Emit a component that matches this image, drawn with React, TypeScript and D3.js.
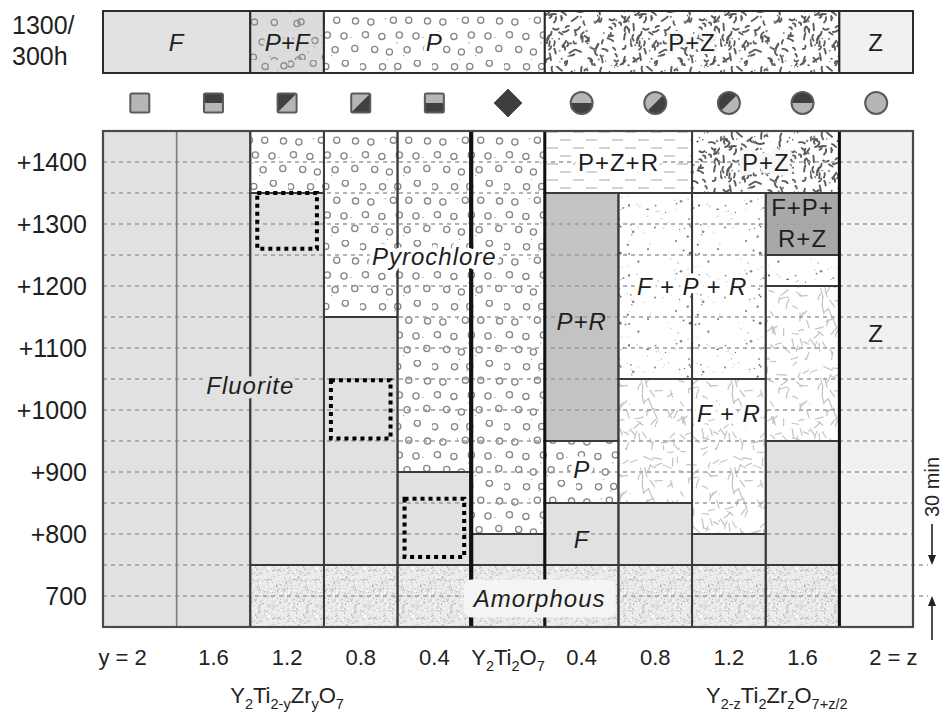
import React, { useMemo } from "react";
import * as d3 from "d3";

const W = 947;
const H = 719;

// Composition axis: y for Y2Ti(2-y)Zr(y)O7 on the left, z for Y(2-z)Ti2Zr(z)O(7+z/2) on the right
const compositions = ["y = 2", "1.6", "1.2", "0.8", "0.4", "Y{2}Ti{2}O{7}", "0.4", "0.8", "1.2", "1.6", "2 = z"];

// Temperature axis (°C)
const tempTicks = [700, 800, 900, 1000, 1100, 1200, 1300, 1400];
const tempTickLabels = ["700", "+800", "+900", "+1000", "+1100", "+1200", "+1300", "+1400"];
const gridTemps = [700, 750, 800, 850, 900, 950, 1000, 1050, 1100, 1150, 1200, 1250, 1300, 1350, 1400];

// Phase fields after 30 min anneals: [fromColumn, toColumn, T low, T high, phase]
const phaseRegions: [number, number, number, number, string][] = [
  [0, 2, 650, 1450, "F"],
  [2, 3, 650, 750, "A"], [2, 3, 750, 1350, "F"], [2, 3, 1350, 1450, "P"],
  [3, 4, 650, 750, "A"], [3, 4, 750, 1150, "F"], [3, 4, 1150, 1450, "P"],
  [4, 5, 650, 750, "A"], [4, 5, 750, 900, "F"], [4, 5, 900, 1450, "P"],
  [5, 6, 650, 750, "A"], [5, 6, 750, 800, "F"], [5, 6, 800, 1450, "P"],
  [6, 7, 650, 750, "A"], [6, 7, 750, 850, "F"], [6, 7, 850, 950, "P"], [6, 7, 950, 1350, "PR"],
  [6, 8, 1350, 1450, "PZR"],
  [7, 8, 650, 750, "A"], [7, 8, 750, 850, "F"], [7, 8, 850, 1050, "FR"], [7, 8, 1050, 1350, "FPR"],
  [8, 9, 650, 750, "A"], [8, 9, 750, 800, "F"], [8, 9, 800, 1050, "FR"], [8, 9, 1050, 1350, "FPR"],
  [8, 10, 1350, 1450, "PZ"],
  [9, 10, 650, 750, "A"], [9, 10, 750, 950, "F"], [9, 10, 950, 1200, "FR"], [9, 10, 1200, 1250, "FPR"], [9, 10, 1250, 1350, "FPRZ"],
  [10, 11, 650, 1450, "Z"],
];

// Long anneal at 1300 °C / 300 h: column spans and phase
const stripFrom = [0, 2, 3, 6, 10];
const stripTo = [2, 3, 6, 10, 11];
const stripPhase = ["F", "PF", "P", "PZ", "Z"];
const stripLabels = ["F", "P+F", "P", "P+Z", "Z"];

// Composition markers, one per column
const markerKinds = [
  "sq-light", "sq-top", "sq-ul", "sq-lr", "sq-bottom",
  "diamond",
  "ci-bottom", "ci-lr", "ci-ul", "ci-top", "ci-light",
];

// Metastable fluorite windows: [column, T low, T high]
const metastableBoxes: [number, number, number][] = [
  [2, 1260, 1350],
  [3, 954, 1048],
  [4, 763, 857],
];

// Field names: column position (centre), temperature, italic, knock out lines behind
const phaseLabels = [
  { text: "Fluorite", c: 2.0, t: 1040, italic: true, knock: true },
  { text: "Pyrochlore", c: 4.5, t: 1248, italic: true, knock: true },
  { text: "P+Z+R", c: 7.0, t: 1400, italic: false, knock: true },
  { text: "P+Z", c: 9.0, t: 1400, italic: false, knock: true },
  { text: "F+P+", c: 9.5, t: 1326, italic: false, knock: false },
  { text: "R+Z", c: 9.5, t: 1277, italic: false, knock: false },
  { text: "F + P + R", c: 8.0, t: 1200, italic: true, knock: true },
  { text: "P+R", c: 6.5, t: 1142, italic: true, knock: false },
  { text: "F + R", c: 8.5, t: 994, italic: true, knock: true },
  { text: "P", c: 6.5, t: 904, italic: true, knock: true },
  { text: "F", c: 6.5, t: 791, italic: true, knock: false },
  { text: "Z", c: 10.5, t: 1124, italic: false, knock: false },
];
const amorphousLabel = { text: "Amorphous", c: 5.93, t: 696 };

const seriesNames = [
  { text: "Y{2}Ti{2-y}Zr{y}O{7}", c: 2.5 },
  { text: "Y{2-z}Ti{2}Zr{z}O{7+z/2}", c: 9.15 },
];

const phaseFill: Record<string, string> = {
  F: "#e1e1e1",
  P: "url(#pat-pyro)",
  A: "url(#pat-amor)",
  PR: "#c3c3c3",
  FPRZ: "#a8a8a8",
  Z: "#f1f1f1",
  PZR: "url(#pat-pzr)",
  PZ: "url(#pat-pz)",
  FPR: "url(#pat-fpr)",
  FR: "url(#pat-fr)",
  PF: "url(#pat-pf)",
};
const phaseBase: Record<string, string> = {
  F: "#e1e1e1", P: "#ffffff", A: "#ececec", PR: "#c3c3c3", FPRZ: "#a8a8a8",
  Z: "#f1f1f1", PZR: "#ffffff", PZ: "#f7f7f7", FPR: "#ffffff", FR: "#ffffff", PF: "#dcdcdc",
};

const FONT = "'Liberation Sans', Arial, Helvetica, sans-serif";

function lcg(seed: number) {
  let s = seed >>> 0;
  return () => {
    s = (Math.imul(s, 1664525) + 1013904223) >>> 0;
    return s / 4294967296;
  };
}

function richSpans(s: string, size: number) {
  const parts = s.split(/(\{[^}]*\})/).filter((p) => p.length);
  let sub = false;
  return parts.map((p, i) => {
    const isSub = p.startsWith("{");
    const txt = isSub ? p.slice(1, -1) : p;
    let dy = 0;
    if (isSub && !sub) dy = size * 0.28;
    if (!isSub && sub) dy = -size * 0.28;
    sub = isSub;
    return (
      <tspan key={i} dy={dy || undefined} fontSize={isSub ? size * 0.66 : size}>
        {txt}
      </tspan>
    );
  });
}

function circlesTile(rnd: () => number, w: number, h: number, dx: number, dy: number, color: string) {
  const out: JSX.Element[] = [];
  let k = 0;
  for (let row = 0; row * dy < h; row++) {
    for (let col = 0; col * dx < w; col++) {
      const cx = col * dx + (row % 2 ? dx / 2 : 0) + (rnd() - 0.5) * 5 + 4;
      const cy = row * dy + (rnd() - 0.5) * 4 + 5;
      out.push(<circle key={k++} cx={cx % w} cy={cy} r={3.1} fill="none" stroke={color} strokeWidth={1.3} />);
    }
  }
  for (let i = 0; i < 10; i++) {
    out.push(<circle key={k++} cx={rnd() * w} cy={rnd() * h} r={0.7} fill="#9a9a9a" />);
  }
  return out;
}

function strokesTile(rnd: () => number, w: number, h: number, n: number, lmin: number, lmax: number, color: string, sw: number, curve: number) {
  const out: JSX.Element[] = [];
  for (let i = 0; i < n; i++) {
    const x0 = rnd() * w;
    const y0 = rnd() * h;
    const a = rnd() * Math.PI;
    const L = lmin + rnd() * (lmax - lmin);
    const x1 = x0 + Math.cos(a) * L;
    const y1 = y0 + Math.sin(a) * L;
    const bend = (rnd() - 0.5) * curve;
    const mx = (x0 + x1) / 2 - Math.sin(a) * bend;
    const my = (y0 + y1) / 2 + Math.cos(a) * bend;
    out.push(
      <path key={i} d={`M${x0.toFixed(1)},${y0.toFixed(1)}Q${mx.toFixed(1)},${my.toFixed(1)} ${x1.toFixed(1)},${y1.toFixed(1)}`}
        fill="none" stroke={color} strokeWidth={sw} strokeLinecap="round" />
    );
  }
  return out;
}

function dotsTile(rnd: () => number, w: number, h: number, n: number, rmin: number, rmax: number, shades: string[]) {
  const out: JSX.Element[] = [];
  for (let i = 0; i < n; i++) {
    out.push(
      <circle key={i} cx={rnd() * w} cy={rnd() * h} r={rmin + rnd() * (rmax - rmin)}
        fill={shades[Math.floor(rnd() * shades.length)]} />
    );
  }
  return out;
}

function Marker({ kind, cx, cy }: { kind: string; cx: number; cy: number }) {
  const light = "#b6b6b6";
  const dark = "#404040";
  const edge = "#5a5a5a";
  if (kind === "diamond") {
    const r = 14;
    return <path d={`M${cx},${cy - r}L${cx + r},${cy}L${cx},${cy + r}L${cx - r},${cy}Z`} fill="#3e3e3e" stroke="#555" strokeWidth={1} />;
  }
  const isSq = kind.startsWith("sq");
  const mode = kind.split("-")[1];
  const r = isSq ? 9.5 : 11;
  const x0 = cx - r, x1 = cx + r, y0 = cy - r, y1 = cy + r;
  let darkPath = "";
  if (mode === "top") darkPath = `M${x0},${y0}H${x1}V${cy}H${x0}Z`;
  if (mode === "bottom") darkPath = `M${x0},${cy}H${x1}V${y1}H${x0}Z`;
  if (mode === "ul") darkPath = `M${x0},${y0}H${x1}L${x0},${y1}Z`;
  if (mode === "lr") darkPath = `M${x1},${y0}V${y1}H${x0}Z`;
  const id = `clip-${kind}-${Math.round(cx)}`;
  return (
    <g>
      <defs>
        <clipPath id={id}>
          {isSq ? <rect x={x0} y={y0} width={2 * r} height={2 * r} /> : <circle cx={cx} cy={cy} r={r} />}
        </clipPath>
      </defs>
      {isSq ? <rect x={x0} y={y0} width={2 * r} height={2 * r} fill={light} /> : <circle cx={cx} cy={cy} r={r} fill={light} />}
      {darkPath && <path d={darkPath} fill={dark} clipPath={`url(#${id})`} />}
      {isSq ? (
        <rect x={x0} y={y0} width={2 * r} height={2 * r} fill="none" stroke={edge} strokeWidth={2} rx={1.5} />
      ) : (
        <circle cx={cx} cy={cy} r={r} fill="none" stroke={edge} strokeWidth={2} />
      )}
    </g>
  );
}

export default function App() {
  const x = d3.scaleLinear().domain([0, 11]).range([103, 913]);
  const t = d3.scaleLinear().domain([650, 1450]).range([627, 131]);
  const stripTop = 11;
  const stripBottom = 73;
  const markerY = 103;

  const patterns = useMemo(() => {
    const pyro = circlesTile(lcg(7), 72, 60, 18, 15, "#868686");
    const pf = circlesTile(lcg(11), 72, 60, 22, 18, "#8c8c8c");
    const pz = [
      ...strokesTile(lcg(21), 90, 66, 90, 3, 7.5, "#5a5a5a", 1.9, 5),
      ...dotsTile(lcg(22), 90, 66, 45, 0.7, 1.3, ["#5e5e5e", "#888"]),
    ];
    const fr = strokesTile(lcg(31), 90, 90, 85, 5, 10, "#c4c4c4", 1.2, 2);
    const fpr = [
      ...dotsTile(lcg(41), 70, 70, 26, 0.6, 1.5, ["#6e6e6e", "#8a8a8a"]),
      ...dotsTile(lcg(42), 70, 70, 30, 0.5, 0.9, ["#c2c2c2", "#d0d0d0"]),
    ];
    const amor = [
      ...dotsTile(lcg(51), 48, 48, 380, 0.45, 0.85, ["#a9a9a9", "#bcbcbc", "#cccccc", "#d8d8d8"]),
      ...dotsTile(lcg(52), 48, 48, 120, 0.5, 1.0, ["#ffffff", "#f6f6f6"]),
    ];
    return { pyro, pf, pz, fr, fpr, amor };
  }, []);

  const regionAt = (c: number, tv: number) =>
    phaseRegions.find((r) => c >= r[0] && c <= r[1] && tv >= r[2] && tv <= r[3]);

  const panelX0 = x(0), panelX1 = x(11), panelY0 = t(1450), panelY1 = t(650);

  return (
    <svg width={W} height={H} viewBox={`0 0 ${W} ${H}`}
      style={{ position: "absolute", left: 0, top: 0, background: "#fff" }}
      fontFamily={FONT}>
      <defs>
        <pattern id="pat-pyro" patternUnits="userSpaceOnUse" width={72} height={60}>
          <rect width={72} height={60} fill="#fff" />
          {patterns.pyro}
        </pattern>
        <pattern id="pat-pf" patternUnits="userSpaceOnUse" width={72} height={60}>
          <rect width={72} height={60} fill="#dcdcdc" />
          {patterns.pf}
        </pattern>
        <pattern id="pat-pz" patternUnits="userSpaceOnUse" width={90} height={66}>
          <rect width={90} height={66} fill="#fff" />
          {patterns.pz}
        </pattern>
        <pattern id="pat-fr" patternUnits="userSpaceOnUse" width={90} height={90}>
          <rect width={90} height={90} fill="#fff" />
          {patterns.fr}
        </pattern>
        <pattern id="pat-fpr" patternUnits="userSpaceOnUse" width={70} height={70}>
          <rect width={70} height={70} fill="#fff" />
          {patterns.fpr}
        </pattern>
        <pattern id="pat-amor" patternUnits="userSpaceOnUse" width={48} height={48}>
          <rect width={48} height={48} fill="#ebebeb" />
          {patterns.amor}
        </pattern>
        <pattern id="pat-pzr" patternUnits="userSpaceOnUse" width={26} height={16}>
          <rect width={26} height={16} fill="#fff" />
          <line x1={1} x2={12} y1={4} y2={4} stroke="#c8c8c8" strokeWidth={1.6} />
          <line x1={14} x2={25} y1={12} y2={12} stroke="#c8c8c8" strokeWidth={1.6} />
        </pattern>
      </defs>

      {/* 1300 °C / 300 h strip */}
      <text x={12} y={34} fontSize={25} fill="#1e1e1e">1300/</text>
      <text x={12} y={65} fontSize={25} fill="#1e1e1e">300h</text>
      {stripPhase.map((ph, i) => (
        <rect key={`s${i}`} x={x(stripFrom[i])} y={stripTop} width={x(stripTo[i]) - x(stripFrom[i])}
          height={stripBottom - stripTop} fill={phaseFill[ph]} stroke="#2a2a2a" strokeWidth={2} />
      ))}
      {stripLabels.map((lab, i) => (
        <text key={`sl${i}`} x={(x(stripFrom[i]) + x(stripTo[i])) / 2} y={(stripTop + stripBottom) / 2}
          textAnchor="middle" dominantBaseline="central" fontSize={24}
          fontStyle={stripPhase[i] === "PZ" || stripPhase[i] === "Z" ? "normal" : "italic"}
          fill="#1e1e1e" stroke={phaseBase[stripPhase[i]]} strokeWidth={6} strokeLinejoin="round"
          paintOrder="stroke" letterSpacing={stripPhase[i] === "PF" ? 0 : 1}>
          {lab}
        </text>
      ))}

      {/* composition markers */}
      {markerKinds.map((k, i) => (
        <Marker key={`m${i}`} kind={k} cx={x(i + 0.5)} cy={markerY} />
      ))}

      {/* phase field fills */}
      {phaseRegions.map((r, i) => (
        <rect key={`r${i}`} x={x(r[0])} y={t(r[3])} width={x(r[1]) - x(r[0])} height={t(r[2]) - t(r[3])}
          fill={phaseFill[r[4]]} />
      ))}

      {/* temperature grid */}
      {gridTemps.map((g) => (
        <line key={`g${g}`} x1={panelX0} x2={g <= 750 ? 928 : panelX1} y1={t(g)} y2={t(g)}
          stroke="#9c9c9c" strokeWidth={1.3} strokeDasharray="4 4" />
      ))}

      {/* field boundaries */}
      {phaseRegions.map((r, i) => (
        <rect key={`o${i}`} x={x(r[0])} y={t(r[3])} width={x(r[1]) - x(r[0])} height={t(r[2]) - t(r[3])}
          fill="none" stroke="#3a3a3a" strokeWidth={1.9} />
      ))}
      <line x1={x(1)} x2={x(1)} y1={panelY0} y2={panelY1} stroke="#7c7c7c" strokeWidth={1.6} />
      {[5, 6, 10].map((c) => (
        <line key={`h${c}`} x1={x(c)} x2={x(c)} y1={panelY0} y2={panelY1}
          stroke="#111" strokeWidth={c === 5 ? 4.2 : 3} />
      ))}
      <rect x={panelX0} y={panelY0} width={panelX1 - panelX0} height={panelY1 - panelY0}
        fill="none" stroke="#4a4a4a" strokeWidth={2.2} />

      {/* metastable windows */}
      {metastableBoxes.map((b, i) => (
        <rect key={`b${i}`} x={x(b[0]) + 7} y={t(b[2])} width={x(b[0] + 1) - x(b[0]) - 14}
          height={t(b[1]) - t(b[2])} fill="none" stroke="#000" strokeWidth={4}
          strokeDasharray="4 4" />
      ))}

      {/* field names */}
      {phaseLabels.map((l, i) => {
        const reg = regionAt(l.c, l.t);
        const halo = reg ? phaseBase[reg[4]] : "#fff";
        return (
          <text key={`l${i}`} x={x(l.c)} y={t(l.t)} textAnchor="middle" dominantBaseline="central"
            fontSize={24} fontStyle={l.italic ? "italic" : "normal"} fill="#1e1e1e"
            stroke={l.knock ? halo : "none"} strokeWidth={l.knock ? 9 : 0} strokeLinejoin="round"
            paintOrder="stroke" letterSpacing={1}>
            {l.text}
          </text>
        );
      })}
      <rect x={x(amorphousLabel.c) - 76} y={t(amorphousLabel.t) - 19} width={152} height={38} rx={8}
        fill="#f4f4f4" />
      <text x={x(amorphousLabel.c)} y={t(amorphousLabel.t)} textAnchor="middle" dominantBaseline="central"
        fontSize={24} fontStyle="italic" fill="#1e1e1e" letterSpacing={1}>
        {amorphousLabel.text}
      </text>

      {/* temperature axis */}
      {tempTicks.map((tv, i) => (
        <text key={`yt${tv}`} x={87} y={t(tv)} textAnchor="end" dominantBaseline="central"
          fontSize={25} fill="#1e1e1e">
          {tempTickLabels[i]}
        </text>
      ))}

      {/* 30 min annotation */}
      <text transform={`translate(${939},${487}) rotate(-90)`} textAnchor="middle" fontSize={20} fill="#222">
        30 min
      </text>
      <line x1={932} x2={932} y1={524} y2={t(750) - 8} stroke="#222" strokeWidth={1.6} />
      <path d={`M${928},${t(750) - 10}L${936},${t(750) - 10}L${932},${t(750)}Z`} fill="#222" />
      <line x1={932} x2={932} y1={640} y2={t(700) + 8} stroke="#222" strokeWidth={1.6} />
      <path d={`M${928},${t(700) + 10}L${936},${t(700) + 10}L${932},${t(700)}Z`} fill="#222" />

      {/* composition axis */}
      {compositions.map((c, i) => {
        const last = compositions.length - 1;
        const cx = x(i + 0.5);
        const anchor = i === 0 ? "end" : i === last ? "start" : "middle";
        const px = i === 0 ? cx + 7 : i === last ? cx - 7 : cx;
        return (
          <text key={`xt${i}`} x={px} y={665} textAnchor={anchor} fontSize={22} fill="#222">
            {richSpans(c, 22)}
          </text>
        );
      })}
      {seriesNames.map((s, i) => (
        <text key={`sn${i}`} x={x(s.c)} y={703} textAnchor="middle" fontSize={22} fill="#222">
          {richSpans(s.text, 22)}
        </text>
      ))}
    </svg>
  );
}
